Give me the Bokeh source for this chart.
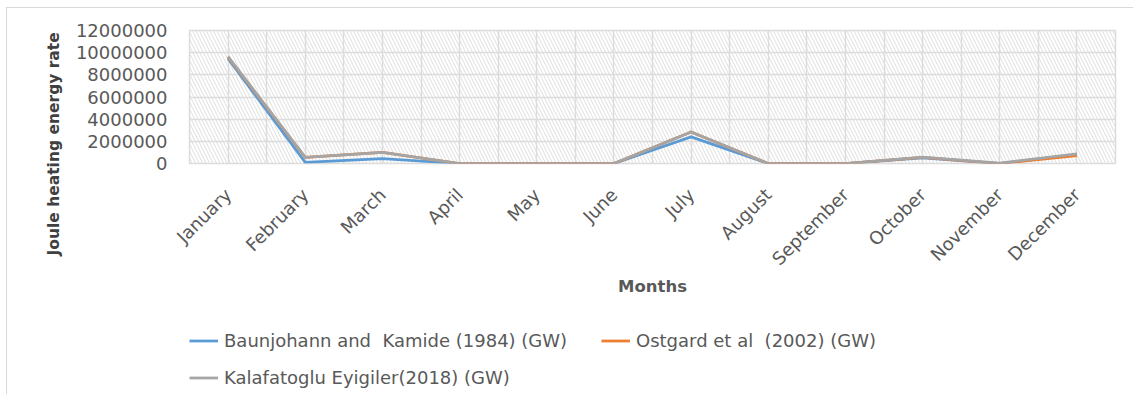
import math
from bokeh.plotting import figure
from bokeh.layouts import column
from bokeh.models import (FactorRange, Range1d, Legend, LegendItem, BoxAnnotation,
                          FixedTicker, NumeralTickFormatter, Title)
from bokeh.embed import file_html
from bokeh.resources import INLINE

months = ["January", "February", "March", "April", "May", "June", "July",
          "August", "September", "October", "November", "December"]
baunjohann = [9450000, 100000, 450000, 0, 0, 0, 2400000, 0, 0, 500000, 0, 800000]
ostgard = [9600000, 550000, 1000000, 0, 0, 0, 2850000, 0, 0, 550000, 0, 720000]
kalafatoglu = [9650000, 550000, 1000000, 0, 0, 0, 2850000, 0, 0, 570000, 30000, 870000]
y_ticks = [0, 2000000, 4000000, 6000000, 8000000, 10000000, 12000000]
series_names = ["Baunjohann and  Kamide (1984) (GW)", "Ostgard et al  (2002) (GW)",
                "Kalafatoglu Eyigiler(2018) (GW)"]
series_colors = ["#5B9BD5", "#ED7D31", "#A5A5A5"]
series_values = [baunjohann, ostgard, kalafatoglu]

GRID = "#dcdcdc"
TEXT = "#595959"

p = figure(x_range=FactorRange(*months), y_range=Range1d(y_ticks[0], y_ticks[-1]),
           width=1126, height=302, output_backend="svg", toolbar_location=None,
           min_border_left=182, min_border_right=18, min_border_top=22,
           min_border_bottom=147)

p.outline_line_color = GRID
p.outline_line_width = 1.5

# hatched plot area
p.add_layout(BoxAnnotation(fill_alpha=0, line_color=None, hatch_pattern="\\",
                           hatch_color="#dedede", hatch_scale=7, hatch_weight=1,
                           level="image"))

# grid
n = len(months)
p.xgrid.ticker = FixedTicker(ticks=[i * 0.5 for i in range(2 * n + 1)])
p.xgrid.grid_line_color = GRID
p.xgrid.grid_line_width = 1.5
p.ygrid.ticker = FixedTicker(ticks=y_ticks)
p.ygrid.grid_line_color = GRID
p.ygrid.grid_line_width = 1.5

# axes
p.yaxis.ticker = FixedTicker(ticks=y_ticks)
p.yaxis.formatter = NumeralTickFormatter(format="0")
p.yaxis.axis_line_color = None
p.yaxis.major_tick_line_color = None
p.yaxis.minor_tick_line_color = None
p.yaxis.major_tick_out = 0
p.yaxis.major_tick_in = 0
p.yaxis.major_label_standoff = 22
p.yaxis.major_label_text_font = "DejaVu Sans"
p.yaxis.major_label_text_font_size = "18px"
p.yaxis.major_label_text_color = TEXT

p.xaxis.axis_line_color = None
p.xaxis.major_tick_line_color = None
p.xaxis.minor_tick_line_color = None
p.xaxis.major_tick_out = 0
p.xaxis.major_tick_in = 0
p.xaxis.major_label_orientation = math.pi / 4
p.xaxis.major_label_standoff = 28
p.xaxis.major_label_text_font = "DejaVu Sans"
p.xaxis.major_label_text_font_size = "18px"
p.xaxis.major_label_text_color = TEXT
p.xaxis.axis_label = "Months"
p.xaxis.axis_label_text_font = "DejaVu Sans"
p.xaxis.axis_label_text_font_size = "16.5px"
p.xaxis.axis_label_text_font_style = "bold"
p.xaxis.axis_label_text_color = TEXT
p.xaxis.axis_label_standoff = -3

p.add_layout(Title(text="Joule heating energy rate", align="left", offset=-92,
                   text_font="DejaVu Sans", text_font_size="15.5px",
                   text_font_style="bold", text_color="#404040", standoff=20), "left")

for vals, col in zip(series_values, series_colors):
    p.line(months, vals, line_color=col, line_width=2.75, line_join="round")

# legend strip below the chart (its frame is aligned with the chart's frame)
p2 = figure(width=1126, height=84, output_backend="svg", toolbar_location=None,
            min_border=0, x_range=Range1d(0, 1), y_range=Range1d(0, 1))
p2.axis.visible = False
p2.grid.visible = False
p2.outline_line_color = None
items = []
for name, col in zip(series_names, series_colors):
    r = p2.line(x=[float("nan")], y=[float("nan")], line_color=col, line_width=2.75)
    items.append(LegendItem(label=name, renderers=[r]))
legend = Legend(items=items, orientation="horizontal", ncols=2, location=(0, 3),
                margin=0, padding=0, spacing=10, glyph_width=29, glyph_height=27,
                label_height=27, label_width=367, label_standoff=6,
                border_line_color=None, background_fill_alpha=0,
                label_text_font="DejaVu Sans", label_text_font_size="18px",
                label_text_color=TEXT)
p2.add_layout(legend)

layout = column(p, p2, spacing=0,
                styles={"margin-left": "6px", "margin-top": "7px",
                        "border-left": "1px solid #d9d9d9",
                        "border-top": "1px solid #d9d9d9"})

open("out.html", "w").write(file_html(layout, INLINE))
